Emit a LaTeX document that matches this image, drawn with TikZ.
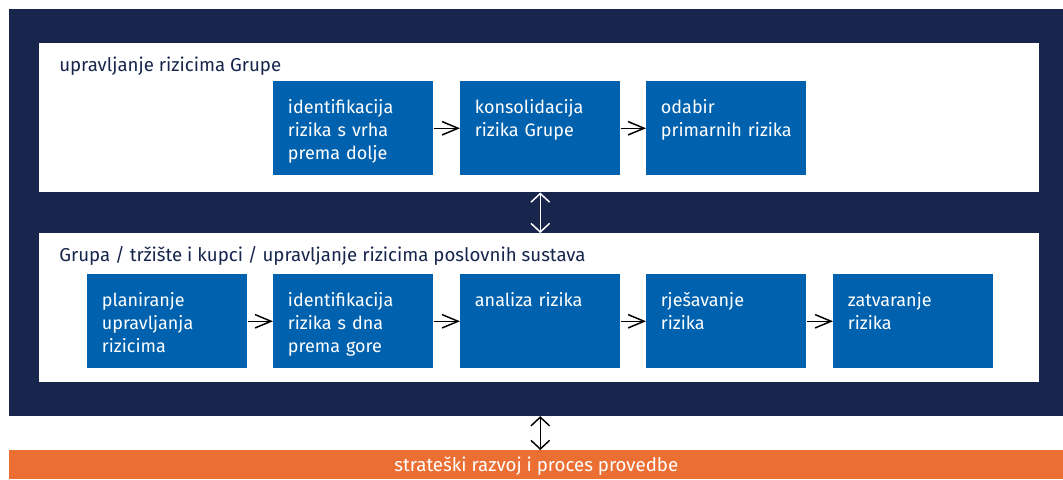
\documentclass[tikz,border=0pt]{standalone}
\usepackage{fontspec}
\setmainfont{Fira Sans}
\usetikzlibrary{arrows.meta}

\definecolor{ingnavy}{HTML}{18264E}
\definecolor{ingblue}{HTML}{0062AE}
\definecolor{ingorange}{HTML}{EB6E33}

\tikzset{
  panel/.style = {fill=white, draw=none, anchor=north west, inner sep=0pt,
                  minimum width=750pt, minimum height=111.75pt},
  stepbox/.style = {fill=ingblue, text=white, anchor=north west, align=left,
                    inner xsep=11pt, inner ysep=0pt, text width=98pt,
                    text height=24pt, text depth=46.5pt,
                    font=\fontsize{13.5}{17.5}\selectfont},
  heading/.style = {anchor=base west, inner sep=0pt, text=ingnavy,
                    font=\fontsize{14}{16}\selectfont},
  flow/.style = {-{Straight Barb[length=12pt, width=10pt]}, line width=1.1pt, black},
  link/.style = {{Straight Barb[length=6.5pt, width=14pt]}-{Straight Barb[length=6.5pt, width=14pt]},
                 line width=1.1pt}
}

\begin{document}
\begin{tikzpicture}[x=0.75pt, y=-0.75pt]
    \useasboundingbox (0,0) rectangle (1063,479);

    % Outer frame
    \node[fill=ingnavy, anchor=north west, inner sep=0pt,
          minimum width=790.5pt, minimum height=305pt] (frame) at (9,9) {};

    % Upper panel (Group level)
    \node[panel] (upper) at (39,43) {};
    \node[heading] (uppertitle) at (59,71) {upravljanje rizicima Grupe};

    \node[stepbox] (u1) at (273,81) {identifikacija\\rizika s vrha\\prema dolje};
    \node[stepbox] (u2) at (460,81) {konsolidacija\\rizika Grupe};
    \node[stepbox] (u3) at (646,81) {odabir\\primarnih~rizika};

    % Lower panel (business level)
    \node[panel] (lower) at (39,233) {};
    \node[heading] (lowertitle) at (59,261)
        {Grupa / tržište i kupci / upravljanje rizicima poslovnih sustava};

    \node[stepbox] (l1) at (87,274)  {planiranje\\upravljanja\\rizicima};
    \node[stepbox] (l2) at (273,274) {identifikacija\\rizika s dna\\prema gore};
    \node[stepbox] (l3) at (460,274) {analiza rizika};
    \node[stepbox] (l4) at (646,274) {rješavanje\\rizika};
    \node[stepbox] (l5) at (833,274) {zatvaranje\\rizika};

    % Strategy bar
    \node[fill=ingorange, text=white, anchor=north west, inner sep=0pt,
          minimum width=790.5pt, minimum height=21.75pt,
          text height=11pt, text depth=1pt,
          font=\fontsize{14}{16}\selectfont] (strategy) at (9,450)
        {strateški razvoj i proces provedbe};

    % Process arrows
    \foreach \a/\b in {u1/u2, u2/u3, l1/l2, l2/l3, l3/l4, l4/l5}
        \draw[flow] (\a) -- (\b);

    % Links between levels
    \draw[link, white] (u2.center |- upper.south) -- (u2.center |- lower.north);
    \draw[link, black] (l3.center |- frame.south) -- (l3.center |- strategy.north);
\end{tikzpicture}
\end{document}
